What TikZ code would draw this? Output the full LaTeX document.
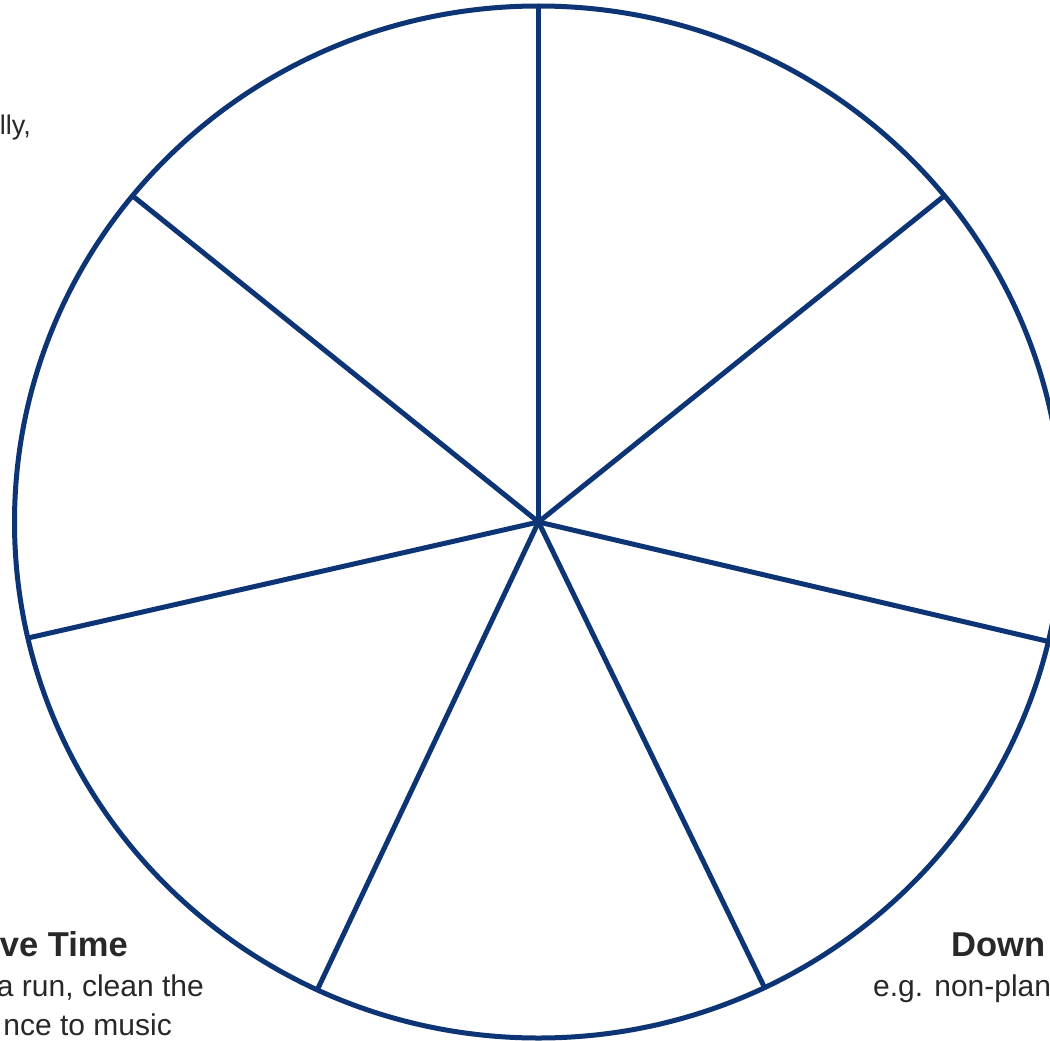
\documentclass[tikz,border=0pt]{standalone}
\usepackage{fontspec}
\setmainfont{Liberation Sans}
\definecolor{navy}{RGB}{13,53,117}
\definecolor{txt}{RGB}{40,40,40}
\tikzset{
  wheel/.style={draw=navy, line width=5pt},
  body/.style={text=txt, font=\fontsize{30}{36}\selectfont, inner sep=0pt},
  head/.style={text=txt, font=\fontsize{34.5}{40}\selectfont\bfseries, inner sep=0pt}
}
\begin{document}
\begin{tikzpicture}[x=1pt,y=-1pt]
\useasboundingbox (0,0) rectangle (1050,1041);
\begin{scope}
\clip (0,0) rectangle (1050,1041);
\coordinate (c) at (538.5,522);
\draw[wheel] (c) ellipse [x radius=524, y radius=516];
\coordinate (p1) at (538.5,6);
\coordinate (p2) at (943.5,196.5);
\coordinate (p3) at (1048.5,641.5);
\coordinate (p4) at (765,988.5);
\coordinate (p5) at (316.5,991.5);
\coordinate (p6) at (28,638);
\coordinate (p7) at (131.5,195);
\foreach \i in {1,...,7} {
  \draw[wheel] (c) -- (p\i);
}
\node[body, font=\fontsize{27}{32}\selectfont, anchor=base east] (t1) at (31,135) {lly,};
\node[head, anchor=base east] (t2) at (128,956) {ve Time};
\node[body, anchor=base east] (t3) at (204,996) {a run, clean the};
\node[body, anchor=base east] (t4) at (172,1035) {nce to music};
\node[head, anchor=base west] (t5) at (951,956) {Down};
\node[body, anchor=base west] (t6) at (873,996) {e.g. non-plan};
\end{scope}
\end{tikzpicture}
\end{document}
